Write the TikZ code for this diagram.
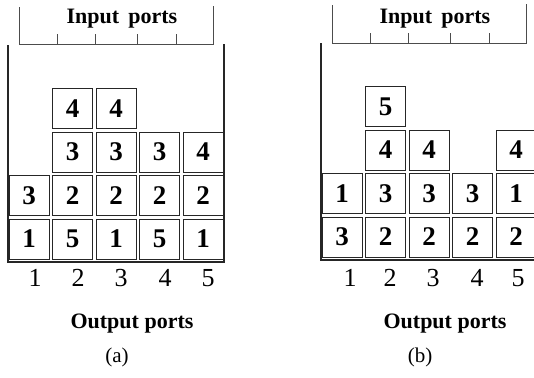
\documentclass[tikz,border=0pt]{standalone}
\usepackage{fontspec}
\setmainfont{Liberation Serif}
\begin{document}
\begin{tikzpicture}[x=0.5pt,y=-0.5pt,
    cell/.style={draw=black!85, line width=0.5pt, minimum size=20pt, inner sep=0pt,
        font=\fontsize{13.5}{15}\selectfont\bfseries},
    wall/.style={line width=0.6pt, black!85},
    rim/.style={line width=0.5pt, black!70},
    port/.style={font=\fontsize{13}{15}\selectfont, anchor=base},
    title/.style={font=\fontsize{11}{13}\selectfont\bfseries, anchor=base},
    caption/.style={font=\fontsize{10.5}{12}\selectfont, anchor=base}]
\useasboundingbox (0,0) rectangle (534,377);
% (a)
\draw[rim]
    (19,7)--(19,44)--(213,44)--(213,6);
\draw[rim] (57,44)--(57,34);
\draw[rim] (95,44)--(95,34);
\draw[rim] (137,44)--(137,34);
\draw[rim] (176,44)--(176,34);
\node[title] (ina) at (122,23) {Input\, ports};
\draw[wall]
    (8,45)--(8,262)--(224,262)--(224,44);
\node[cell] (a11) at (29,239) {1};
\node[cell] (a12) at (72.5,239) {5};
\node[cell] (a13) at (116,239) {1};
\node[cell] (a14) at (159.5,239) {5};
\node[cell] (a15) at (203,239) {1};
\node[cell] (a21) at (29,195.5) {3};
\node[cell] (a22) at (72.5,195.5) {2};
\node[cell] (a23) at (116,195.5) {2};
\node[cell] (a24) at (159.5,195.5) {2};
\node[cell] (a25) at (203,195.5) {2};
\node[cell] (a32) at (72.5,152) {3};
\node[cell] (a33) at (116,152) {3};
\node[cell] (a34) at (159.5,152) {3};
\node[cell] (a35) at (203,152) {4};
\node[cell] (a42) at (72.5,108.5) {4};
\node[cell] (a43) at (116,108.5) {4};
\node[port] (pa1) at (35,286) {1};
\node[port] (pa2) at (78,286) {2};
\node[port] (pa3) at (121,286) {3};
\node[port] (pa4) at (165,286) {4};
\node[port] (pa5) at (208,286) {5};
\node[title] (outa) at (132,328) {Output ports};
\node[caption] (capa) at (117,362) {(a)};
% (b)
\begin{scope}[shift={(313,-2)}]
\draw[rim]
    (19,7)--(19,45)--(213,45)--(213,6);
\draw[rim] (57,45)--(57,35);
\draw[rim] (95,45)--(95,35);
\draw[rim] (137,45)--(137,35);
\draw[rim] (176,45)--(176,35);
\node[title] (inb) at (122,25) {Input\, ports};
\draw[wall]
    (8,45)--(8,262)--(224,262)--(224,44);
\node[cell] (b11) at (29,239) {3};
\node[cell] (b12) at (72.5,239) {2};
\node[cell] (b13) at (116,239) {2};
\node[cell] (b14) at (159.5,239) {2};
\node[cell] (b15) at (203,239) {2};
\node[cell] (b21) at (29,195.5) {1};
\node[cell] (b22) at (72.5,195.5) {3};
\node[cell] (b23) at (116,195.5) {3};
\node[cell] (b24) at (159.5,195.5) {3};
\node[cell] (b25) at (203,195.5) {1};
\node[cell] (b32) at (72.5,152) {4};
\node[cell] (b33) at (116,152) {4};
\node[cell] (b35) at (203,152) {4};
\node[cell] (b42) at (72.5,108.5) {5};
\node[port] (pb1) at (37,288) {1};
\node[port] (pb2) at (77,288) {2};
\node[port] (pb3) at (120,288) {3};
\node[port] (pb4) at (164,288) {4};
\node[port] (pb5) at (205,288) {5};
\node[title] (outb) at (132,330) {Output ports};
\node[caption] (capb) at (107,364) {(b)};
\end{scope}
\end{tikzpicture}
\end{document}
